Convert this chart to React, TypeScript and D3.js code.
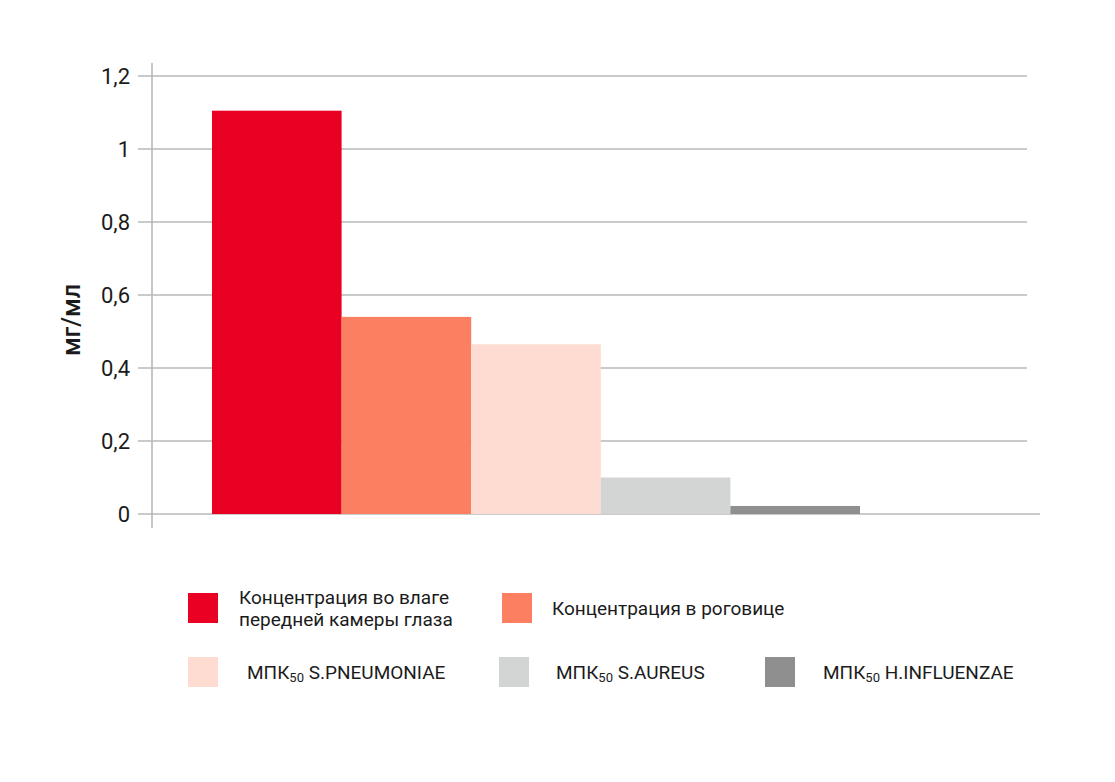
import * as d3 from "d3";

const W = 1115;
const H = 782;

// bar series, left to right
const seriesKeys = ["aqueous", "cornea", "pneumoniae", "aureus", "influenzae"];
const seriesValues = [1.105, 0.54, 0.465, 0.1, 0.022];
const seriesColors = ["#ea0023", "#fd7f62", "#fedcd2", "#d3d5d4", "#8f8f8f"];

const yTickValues = [0, 0.2, 0.4, 0.6, 0.8, 1, 1.2];
const yTickLabels = ["0", "0,2", "0,4", "0,6", "0,8", "1", "1,2"];

// legend text
const legendLines: string[][] = [
  ["Концентрация во влаге", "передней камеры глаза"],
  ["Концентрация в роговице"],
];
const mpkOrganisms = ["S.PNEUMONIAE", "S.AUREUS", "H.INFLUENZAE"];

const FONT = "Roboto, 'Noto Sans', sans-serif";
const GRID = "#b7b9b8";

const plot = { left: 152, right: 1027, baseRight: 1040, top: 76, bottom: 514 };

export default function App() {
  const x = d3
    .scaleBand<string>()
    .domain(seriesKeys)
    .range([212, 860])
    .paddingInner(0);
  const y = d3.scaleLinear().domain([0, 1.2]).range([plot.bottom, plot.top]);

  const legendRow1 = [
    { key: seriesKeys[0], sx: 188, tx: 239, lines: legendLines[0] },
    { key: seriesKeys[1], sx: 502, tx: 552, lines: legendLines[1] },
  ];
  const legendRow2 = [
    { key: seriesKeys[2], sx: 188, tx: 247, org: mpkOrganisms[0] },
    { key: seriesKeys[3], sx: 499, tx: 556, org: mpkOrganisms[1] },
    { key: seriesKeys[4], sx: 765, tx: 823, org: mpkOrganisms[2] },
  ];
  const colorOf = (k: string) => seriesColors[seriesKeys.indexOf(k)];

  return (
    <svg
      width={W}
      height={H}
      viewBox={`0 0 ${W} ${H}`}
      style={{ position: "absolute", left: 0, top: 0, background: "#fff" }}
      fontFamily={FONT}
    >
      {/* gridlines + tick labels */}
      {yTickValues.map((t, i) => (
        <g key={t}>
          <line
            x1={138}
            x2={t === 0 ? plot.baseRight : plot.right}
            y1={y(t)}
            y2={y(t)}
            stroke={GRID}
            strokeWidth={1.6}
          />
          <text
            x={130}
            y={y(t)}
            dy="0.36em"
            textAnchor="end"
            fontSize={22}
            fill="#1b1b1b"
          >
            {yTickLabels[i]}
          </text>
        </g>
      ))}
      <line
        x1={plot.left}
        x2={plot.left}
        y1={63}
        y2={528}
        stroke={GRID}
        strokeWidth={1.6}
      />

      {/* y axis title */}
      <text
        transform={`translate(80, 320) rotate(-90)`}
        textAnchor="middle"
        fontSize={25}
        fontWeight={500}
        fill="#1b1b1b"
      >
        мг/мл
      </text>

      {/* bars */}
      {seriesKeys.map((k, i) => (
        <rect
          key={k}
          x={x(k)}
          y={y(seriesValues[i])}
          width={x.bandwidth()}
          height={y(0) - y(seriesValues[i])}
          fill={seriesColors[i]}
        />
      ))}

      {/* legend */}
      {legendRow1.map((d) => (
        <g key={d.key}>
          <rect x={d.sx} y={593} width={30} height={30} fill={colorOf(d.key)} />
          {d.lines.length > 1 ? (
            <text x={d.tx} y={604} fontSize={19} fill="#1b1b1b">
              {d.lines.map((l, j) => (
                <tspan key={j} x={d.tx} dy={j === 0 ? 0 : 22}>
                  {l}
                </tspan>
              ))}
            </text>
          ) : (
            <text x={d.tx} y={615} fontSize={19} fill="#1b1b1b">
              {d.lines[0]}
            </text>
          )}
        </g>
      ))}
      {legendRow2.map((d) => (
        <g key={d.key}>
          <rect x={d.sx} y={657} width={30} height={30} fill={colorOf(d.key)} />
          <text x={d.tx} y={679} fontSize={19} fill="#1b1b1b">
            МПК
            <tspan fontSize={13} dy={3}>
              50
            </tspan>
            <tspan dy={-3}> {d.org}</tspan>
          </text>
        </g>
      ))}
    </svg>
  );
}
